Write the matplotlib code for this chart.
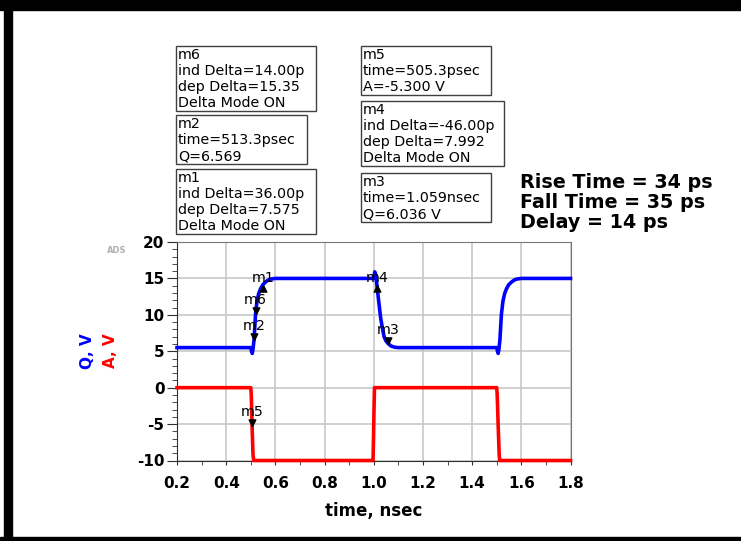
"""
ADS transient plot: Q and A versus time with markers.
"""
import matplotlib
matplotlib.use("Agg")
import matplotlib.pyplot as plt
from matplotlib.patches import Rectangle
from matplotlib.path import Path

# waveform Q (blue)
t_q = [0.2, 0.5, 0.503, 0.506, 0.509, 0.5133, 0.5193, 0.525, 0.532, 0.54, 0.5493,
       0.56, 0.57, 0.58, 0.6, 1.0, 1.004, 1.008, 1.013, 1.02, 1.028, 1.035, 1.042,
       1.05, 1.059, 1.07, 1.085, 1.1, 1.5, 1.503, 1.506, 1.509, 1.513, 1.519, 1.525,
       1.532, 1.54, 1.549, 1.56, 1.57, 1.58, 1.6, 1.8]
q = [5.5, 5.5, 5.0, 4.7, 5.3, 6.57, 10.05, 11.8, 12.9, 13.6, 14.14,
     14.5, 14.75, 14.9, 15.0, 15.0, 15.9, 15.5, 14.03, 11.9, 9.6, 8.2, 7.0,
     6.4, 6.04, 5.72, 5.55, 5.5, 5.5, 5.0, 4.7, 5.3, 6.57, 10.05, 11.8,
     12.9, 13.6, 14.14, 14.5, 14.75, 14.9, 15.0, 15.0]

# waveform A (red)
t_a = [0.2, 0.5, 0.502, 0.5053, 0.509, 0.512, 0.997, 0.999, 1.001, 1.003,
       1.5, 1.502, 1.506, 1.51, 1.512, 1.8]
a = [0, 0, -1.0, -5.3, -9.2, -10, -10, -7, -3, 0,
     0, -1.0, -5.3, -9.2, -10, -10]

# markers: name, time, value, pointing up?
mk_names = ["m1", "m6", "m2", "m5", "m4", "m3"]
mk_t = [0.5493, 0.5193, 0.5133, 0.5053, 1.013, 1.059]
mk_v = [14.144, 10.05, 6.569, -5.3, 14.028, 6.036]
mk_up = [True, False, False, False, True, False]

# marker readout boxes
box_m6 = ["m6", "ind Delta=14.00p", "dep Delta=15.35", "Delta Mode ON"]
box_m2 = ["m2", "time=513.3psec", "Q=6.569"]
box_m1 = ["m1", "ind Delta=36.00p", "dep Delta=7.575", "Delta Mode ON"]
box_m5 = ["m5", "time=505.3psec", "A=-5.300 V"]
box_m4 = ["m4", "ind Delta=-46.00p", "dep Delta=7.992", "Delta Mode ON"]
box_m3 = ["m3", "time=1.059nsec", "Q=6.036 V"]

notes = ["Rise Time = 34 ps", "Fall Time = 35 ps", "Delay = 14 ps"]

x_ticks = [0.2, 0.4, 0.6, 0.8, 1.0, 1.2, 1.4, 1.6, 1.8]
y_ticks = [-10, -5, 0, 5, 10, 15, 20]

W, H = 741, 541
plt.rcParams["font.family"] = ["DejaVu Sans"]
plt.rcParams["axes.unicode_minus"] = False


def fx(px):
    return px / W


def fy(py):
    return 1 - py / H


fig = plt.figure(figsize=(W / 100, H / 100), dpi=100)

# black frame pieces of the screenshot
for (x0, y0, x1, y1) in [(0, 0, W, 10), (4, 0, 12, H), (0, 537, W, H)]:
    fig.patches.append(Rectangle((fx(x0), fy(y1)), fx(x1 - x0), (y1 - y0) / H,
                                 transform=fig.transFigure, color="black", zorder=0))

ax = fig.add_axes([fx(177), fy(460.5), fx(393.5), 218.5 / H])
ax.plot(t_q, q, color="#0000ff", lw=2.6, clip_on=False, zorder=3)
ax.plot(t_a, a, color="#ff0000", lw=2.6, clip_on=False, zorder=3)

down_tri = Path([(0, 0), (-0.5, 1), (0.5, 1), (0, 0)], closed=True)
up_tri = Path([(0, 0), (-0.5, -1), (0.5, -1), (0, 0)], closed=True)
for name, t, v, up in zip(mk_names, mk_t, mk_v, mk_up):
    ax.plot([t], [v], marker=up_tri if up else down_tri, ms=9.5, color="black",
            ls="none", zorder=4, clip_on=False)
    ax.annotate(name, (t, v), xytext=(0, 3 if up else 10), textcoords="offset pixels",
                ha="center", va="baseline", fontsize=10.3, zorder=5)

ax.set_xlim(0.2, 1.8)
ax.set_ylim(-10, 20)
ax.set_xticks(x_ticks)
ax.set_xticklabels([f"{v:.1f}" for v in x_ticks])
ax.set_yticks(y_ticks)
ax.set_yticklabels([str(v) for v in y_ticks])
ax.set_xticks([0.3, 0.5, 0.7, 0.9, 1.1, 1.3, 1.5, 1.7], minor=True)
ax.set_yticks([v for v in range(-10, 21) if v % 5], minor=True)
ax.grid(True, which="major", color="#c8c8c8", lw=1.2)
ax.set_axisbelow(True)
for lab in ax.get_xticklabels() + ax.get_yticklabels():
    lab.set_fontweight("bold")
ax.tick_params(axis="x", which="both", direction="out", length=3, pad=8,
               labelsize=11, color="#303030")
ax.tick_params(axis="y", which="major", direction="out", length=7, pad=2,
               labelsize=11, color="#303030")
ax.tick_params(axis="y", which="minor", direction="out", length=3.6, color="#303030")
for s in ["left", "bottom"]:
    ax.spines[s].set_color("#303030")
for s in ["top", "right"]:
    ax.spines[s].set_color("#777777")
ax.set_xlabel("time, nsec", fontsize=12, fontweight="bold", labelpad=8)

fig.text(fx(88), fy(351), "Q, V", color="#0000ff", rotation=90, ha="center",
         va="center", fontsize=11, fontweight="bold")
fig.text(fx(110), fy(351), "A, V", color="#ff0000", rotation=90, ha="center",
         va="center", fontsize=11, fontweight="bold")
fig.text(fx(117), fy(250), "ADS", color="#b0b0b0", ha="center", va="center",
         fontsize=6, fontweight="bold")


def readout(lines, left, top, right):
    height = 16 * len(lines) + 1
    fig.patches.append(Rectangle((fx(left), fy(top + height)), fx(right - left), height / H,
                                 transform=fig.transFigure, fill=False,
                                 edgecolor="#404040", lw=1.0))
    for i, line in enumerate(lines):
        fig.text(fx(left + 2), fy(top + 13 + 16 * i), line, fontsize=10.3,
                 ha="left", va="baseline")


readout(box_m6, 176, 46, 316)
readout(box_m2, 176, 115, 307)
readout(box_m1, 176, 169, 316)
readout(box_m5, 361, 46, 491)
readout(box_m4, 361, 101, 504)
readout(box_m3, 361, 173, 491)

for i, s in enumerate(notes):
    fig.text(fx(520), fy(188 + 20 * i), s, fontsize=13.8, fontweight="bold",
             ha="left", va="baseline")

fig.savefig("out.png", dpi=100)
